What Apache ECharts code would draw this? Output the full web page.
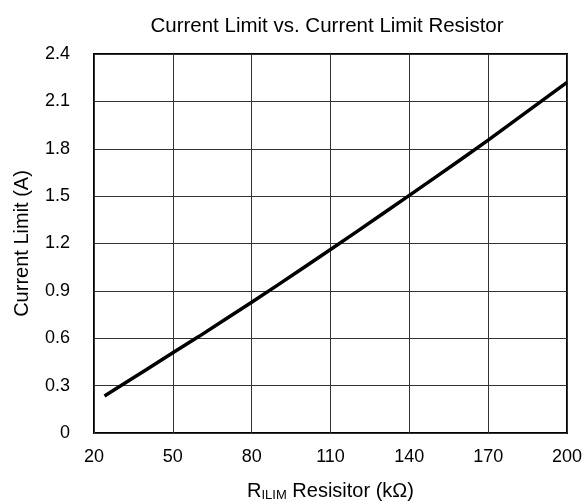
<!DOCTYPE html>
<html>
<head>
<meta charset="utf-8">
<script src="https://cdn.jsdelivr.net/npm/echarts@6/dist/echarts.min.js"></script>
<style>html,body{margin:0;padding:0;background:#fff;}#c{width:585px;height:502px;}</style>
</head>
<body>
<div id="c"></div>
<script>
var titleText = 'Current Limit vs. Current Limit Resistor';
var yAxisName = 'Current Limit (A)';
var resistance = [24, 30, 40, 50, 60, 70, 80, 90, 100, 110, 120, 130, 140, 150, 160, 170, 180, 190, 200];
var currentLimit = [0.235, 0.297, 0.402, 0.508, 0.612, 0.72, 0.828, 0.938, 1.05, 1.162, 1.275, 1.39, 1.505, 1.62, 1.737, 1.855, 1.977, 2.098, 2.22];

var chart = echarts.init(document.getElementById('c'), null, {renderer: 'canvas'});
var font = 'Liberation Sans, Arial, sans-serif';
chart.setOption({
  animation: false,
  backgroundColor: '#fff',
  title: {
    text: titleText, left: 322, top: 11, textAlign: 'center',
    textStyle: {fontFamily: font, fontSize: 20.5, fontWeight: 'normal', color: '#000'}
  },
  grid: {left: 94, right: 18, top: 54, bottom: 69, show: true, borderColor: '#000', borderWidth: 2,
    backgroundColor: 'transparent', containLabel: false, outerBoundsMode: 'none'},
  xAxis: {
    type: 'value', min: 20, max: 200, interval: 30,
    axisLine: {show: false}, axisTick: {show: false},
    splitLine: {show: true, lineStyle: {color: '#333', width: 1}},
    axisLabel: {fontFamily: font, fontSize: 18, color: '#000', margin: 15},
    name: '{r|R}{s|ILIM}{r| Resisitor (kΩ)}',
    nameLocation: 'middle', nameGap: 47,
    nameTextStyle: {
      rich: {
        r: {fontFamily: font, fontSize: 20, color: '#000'},
        s: {fontFamily: font, fontSize: 13, color: '#000', verticalAlign: 'bottom', padding: [9, 0, 0, 0]}
      }
    }
  },
  yAxis: {
    type: 'value', min: 0, max: 2.4, interval: 0.3,
    axisLine: {show: false}, axisTick: {show: false},
    splitLine: {show: true, lineStyle: {color: '#333', width: 1}},
    axisLabel: {fontFamily: font, fontSize: 18, color: '#000', margin: 24,
      formatter: function (v) { return v === 0 ? '0' : v.toFixed(1); }},
    name: yAxisName, nameLocation: 'middle', nameGap: 62,
    nameTextStyle: {fontFamily: font, fontSize: 20, color: '#000'}
  },
  series: [{
    type: 'line',
    data: resistance.map(function (r, i) { return [r, currentLimit[i]]; }),
    showSymbol: false, smooth: false,
    lineStyle: {color: '#000', width: 3.5},
    clip: true
  }]
});
</script>
</body>
</html>
